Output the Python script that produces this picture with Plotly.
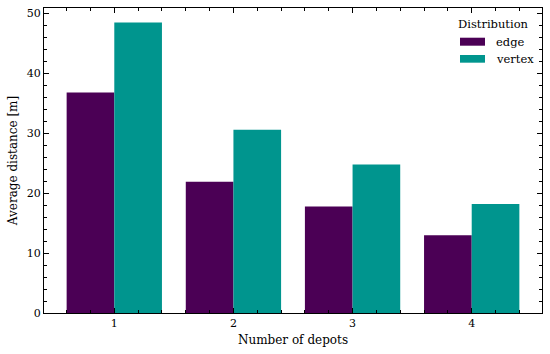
import plotly.graph_objects as go

depots = [1, 2, 3, 4]
edge_vals = [36.8, 21.9, 17.8, 13.0]
vertex_vals = [48.5, 30.6, 24.8, 18.2]
series_names = ["edge", "vertex"]
colors = ["#4B0055", "#00958E"]
legend_title = "Distribution"

FONT = "'DejaVu Serif', serif"

fig = go.Figure()
for name, vals, col in zip(series_names, [edge_vals, vertex_vals], colors):
    fig.add_trace(go.Bar(x=depots, y=vals, name=name, marker=dict(color=col, line=dict(width=0))))

fig.update_layout(
    width=550, height=354,
    margin=dict(l=44, r=8, t=8, b=41),
    barmode="group", bargap=0.2, bargroupgap=0,
    plot_bgcolor="white", paper_bgcolor="white",
    font=dict(family=FONT, size=12, color="black"),
    showlegend=False,
)

# matplotlib-style legend (wide patches) drawn in paper coordinates
fig.add_annotation(text=legend_title, xref="paper", yref="paper", x=0.9036, y=0.949,
                   xanchor="center", yanchor="middle", showarrow=False, font=dict(size=11.5))
patch_y = [(0.8764, 0.9026), (0.8207, 0.8459)]
text_y = [0.8895, 0.8334]
for name, col, (y0, y1), ty in zip(series_names, colors, patch_y, text_y):
    fig.add_shape(type="rect", xref="paper", yref="paper", x0=0.8353, x1=0.8855, y0=y0, y1=y1,
                  fillcolor=col, line=dict(width=0))
    fig.add_annotation(text=name, xref="paper", yref="paper", x=0.9036, y=ty,
                       xanchor="left", yanchor="middle", showarrow=False, font=dict(size=11.5))

fig.update_xaxes(
    range=[0.41, 4.59], tickvals=depots, ticktext=[str(d) for d in depots],
    showline=True, linecolor="black", linewidth=1, mirror="allticks",
    ticks="inside", ticklen=5, tickcolor="black", showgrid=False, zeroline=False,
    minor=dict(ticks="inside", ticklen=3, dtick=0.2, tick0=0, tickcolor="black", showgrid=False),
    title=dict(text="Number of depots", font=dict(size=12), standoff=6),
    tickfont=dict(size=11),
)
fig.update_yaxes(
    range=[0, 50.93], dtick=10, tick0=0,
    showline=True, linecolor="black", linewidth=1, mirror="allticks",
    ticks="inside", ticklen=5, tickcolor="black", showgrid=False, zeroline=False,
    minor=dict(ticks="inside", ticklen=3, dtick=2, tick0=0, tickcolor="black", showgrid=False),
    title=dict(text="Average distance [m]", font=dict(size=12), standoff=6),
    tickfont=dict(size=11),
)

fig.write_html("out.html", post_script="document.body.style.margin='0';",
               config={"displayModeBar": False})
